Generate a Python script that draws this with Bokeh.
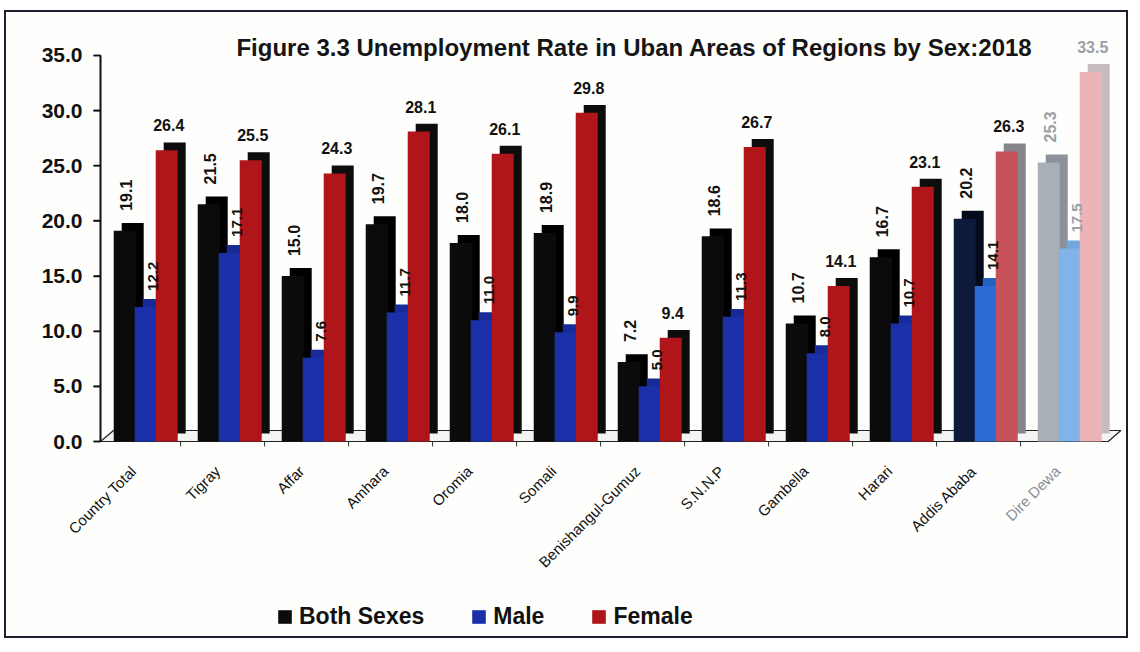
import numpy as np
from math import pi
from bokeh.plotting import figure
from bokeh.models import (ColumnDataSource, Range1d, LabelSet, Label,
                          Legend, LegendItem, FixedTicker, NumeralTickFormatter)
from bokeh.transform import dodge
from bokeh.core.properties import value
from bokeh.embed import file_html
from bokeh.resources import INLINE

# ---------------- data ----------------
categories = ["Country Total", "Tigray", "Affar", "Amhara", "Oromia", "Somali",
              "Benishangul-Gumuz", "S.N.N.P", "Gambella", "Harari", "Addis Ababa", "Dire Dewa"]
both_sexes = [19.1, 21.5, 15.0, 19.7, 18.0, 18.9, 7.2, 18.6, 10.7, 16.7, 20.2, 25.3]
male = [12.2, 17.1, 7.6, 11.7, 11.0, 9.9, 5.0, 11.3, 8.0, 10.7, 14.1, 17.5]
female = [26.4, 25.5, 24.3, 28.1, 26.1, 29.8, 9.4, 26.7, 14.1, 23.1, 26.3, 33.5]
series_names = ["Both Sexes", "Male", "Female"]
y_ticks = [0, 5, 10, 15, 20, 25, 30, 35]
title_text = "Figure 3.3 Unemployment Rate in Uban Areas of Regions by Sex:2018"

# ---------------- style ----------------
n = len(categories)
both_face = ["#0b0b0b"] * (n - 2) + ["#0e1a3a", "#a9afb6"]
both_side = ["#000000"] * (n - 2) + ["#050a1c", "#8b929a"]
male_face = ["#1b30a8"] * (n - 2) + ["#2c6bd2", "#80b3e8"]
male_side = ["#172a98"] * (n - 2) + ["#2660c0", "#74a6de"]
fem_face = ["#b0151a"] * (n - 2) + ["#c7525a", "#ecb4b6"]
fem_side = ["#0d0d0d"] * (n - 2) + ["#85858c", "#c4bcc0"]
label_col = ["#111111"] * (n - 1) + ["#9aa0a8"]
cat_col = ["#111111"] * (n - 1) + ["#8a9098"]

SANS = "'Liberation Sans', Arial"

W = 0.262       # bar width (category units)
OFF = [-0.295, -0.045, 0.205]
DX = 0.095      # 3D depth, x
DY = 0.72       # 3D depth, y
LEFT_U = -0.0833  # position of the value axis / floor start (category units)
TICK_U = 0.083    # outward tick length (category units)

fmt = lambda v: "%.1f" % v
src = ColumnDataSource(dict(
    cat=categories, xc=np.arange(n) + 0.5,
    both=both_sexes, male=male, female=female,
    both_s=[v + DY for v in both_sexes], male_s=[v + DY for v in male],
    female_s=[v + DY for v in female],
    both_t=[fmt(v) for v in both_sexes], male_t=[fmt(v) for v in male],
    female_t=[fmt(v) for v in female],
    bf=both_face, bs=both_side, mf=male_face, ms=male_side, ff=fem_face, fs=fem_side,
    lc=label_col, cc=cat_col,
))

p = figure(width=1124, height=628, title=None,
           x_range=Range1d(-0.9167, 12.083),
           y_range=Range1d(-17.86, 38.17),
           output_backend="svg", toolbar_location=None,
           min_border_left=24, min_border_right=8, min_border_top=8, min_border_bottom=2)
p.background_fill_color = "#fefefc"
p.border_fill_color = "#fefefc"
p.outline_line_color = None
p.xgrid.visible = False
p.ygrid.visible = False
p.xaxis.visible = False
p.styles = {"border": "2px solid #1c1f2e", "margin": "10px 0 0 4px"}

yax = p.yaxis[0]
yax.fixed_location = LEFT_U
yax.ticker = FixedTicker(ticks=y_ticks)
yax.formatter = NumeralTickFormatter(format="0.0")
yax.bounds = (0, 35)
yax.major_tick_out = 7
yax.major_tick_in = 0
yax.minor_tick_line_color = None
yax.axis_line_color = "#111111"
yax.axis_line_width = 1.6
yax.major_tick_line_color = "#111111"
yax.major_tick_line_width = 1.6
yax.major_label_text_font = SANS
yax.major_label_text_font_size = "21px"
yax.major_label_text_font_style = "bold"
yax.major_label_text_color = "#111111"
yax.major_label_standoff = 11

# value-axis rule and ticks (drawn explicitly so they stay visible inside the frame)
yt = np.array(y_ticks, dtype=float)
p.segment(x0=[LEFT_U], y0=[yt.min()], x1=[LEFT_U], y1=[yt.max()],
          line_color="#111111", line_width=1.6)
p.segment(x0=np.full(len(yt), LEFT_U - TICK_U), y0=yt, x1=np.full(len(yt), LEFT_U), y1=yt,
          line_color="#111111", line_width=1.6)

# floor of the 3D chart
p.patch([LEFT_U, n - LEFT_U - 0.17, n - LEFT_U - 0.02, LEFT_U + 0.155],
        [0, 0, 1.0, 1.0], fill_color="#f4f4f2", line_color="#222222", line_width=1.2)
# category separators under the floor
bx = np.arange(1, n) - 0.13
p.segment(x0=bx, y0=np.zeros(n - 1), x1=bx, y1=np.full(n - 1, -0.45),
          line_color="#333333", line_width=1)

# bars (depth face first, then front face)
renderers = []
for off, col, side, face, sidec in [(OFF[0], "both", "both_s", "bf", "bs"),
                                    (OFF[1], "male", "male_s", "mf", "ms"),
                                    (OFF[2], "female", "female_s", "ff", "fs")]:
    p.vbar(x=dodge("xc", off + DX), bottom=DY, top=side, width=W,
           source=src, fill_color=sidec, line_color=None)
    r = p.vbar(x=dodge("xc", off), bottom=0, top=col, width=W,
               source=src, fill_color=face, line_color=None)
    renderers.append(r)

# value labels
p.add_layout(LabelSet(x=dodge("xc", OFF[0]), y="both", text="both_t",
                      source=src, angle=pi / 2, text_align="left", text_baseline="middle",
                      y_offset=20, x_offset=1, text_font=value(SANS), text_font_size="16px",
                      text_font_style="bold", text_color="lc"))
p.add_layout(LabelSet(x=dodge("xc", OFF[1]), y="male", text="male_t",
                      source=src, angle=pi / 2, text_align="left", text_baseline="middle",
                      y_offset=16, x_offset=7, text_font=value(SANS), text_font_size="15px",
                      text_font_style="bold", text_color="lc"))
p.add_layout(LabelSet(x=dodge("xc", OFF[2]), y="female", text="female_t",
                      source=src, text_align="center", text_baseline="alphabetic",
                      y_offset=19, x_offset=2, text_font=value(SANS), text_font_size="16px",
                      text_font_style="bold", text_color="lc"))

# category labels
p.add_layout(LabelSet(x="xc", y=0, text="cat", source=src, angle=pi / 4,
                      text_align="right", text_baseline="middle", x_offset=-16, y_offset=-27,
                      text_font=value(SANS), text_font_size="15px", text_color="cc"))

# title
p.add_layout(Label(x=604, y=591, x_units="screen", y_units="screen", text=title_text,
                   text_align="center", text_baseline="middle", text_font=SANS,
                   text_font_size="24px", text_font_style="bold", text_color="#151515"))

legend = Legend(items=[LegendItem(label=nm, renderers=[r], index=0)
                       for nm, r in zip(series_names, renderers)],
                location=(246, 8), orientation="horizontal",
                label_text_font=SANS, label_text_font_size="23px",
                label_text_font_style="bold", label_text_color="#111111",
                glyph_width=17, glyph_height=17, label_standoff=6, spacing=46,
                padding=0, margin=0, border_line_color=None, background_fill_alpha=0,
                label_height=26)
p.add_layout(legend, "center")

open("out.html", "w").write(file_html(p, INLINE))
